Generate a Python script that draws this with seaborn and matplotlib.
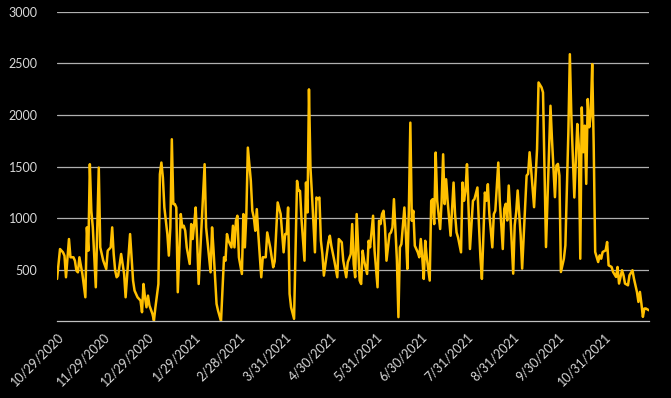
import datetime as dt
import matplotlib
matplotlib.use("Agg")
import matplotlib.pyplot as plt
import seaborn as sns
import pandas as pd

# ---- data: days since 10/29/2020 and values ----
start_date = "2020-10-29"
days = [0, 2, 4, 5, 6, 8, 9, 11, 12, 13, 14, 15, 17, 19, 20, 21, 22, 23, 24, 26, 28, 29, 30, 31, 33, 34, 36, 37, 38, 39, 40, 41, 43, 45, 46,
        48, 49, 50, 51, 52, 54, 56, 57, 58, 59, 60, 61, 62, 64, 65, 66, 68, 69, 70, 71, 72, 74, 75, 76, 77, 78, 79, 80, 81, 83, 84, 85, 86, 87, 89, 90, 91, 92, 93, 94, 95,
        99, 100, 103, 104, 105, 107, 108, 110, 112, 113, 114, 115, 117, 118, 119, 120, 121, 122, 124, 125, 126, 127, 128, 130, 131, 132, 133, 134, 135, 137, 138, 140, 141, 143, 145, 146,
        148, 150, 152, 153, 154, 155, 156, 157, 159, 161, 162, 163, 164, 166, 167, 168, 169, 170, 171, 173, 174, 175, 176, 177, 178, 179, 182, 183, 184, 186, 188, 189, 191, 192, 194, 195, 197,
        198, 199, 200, 201, 203, 204, 205, 206, 208, 209, 210, 212, 213, 215, 216, 217, 218, 219, 220, 221, 223, 224, 225, 226, 228, 229, 230, 231, 233, 234, 235, 236, 237, 238, 239, 240, 242, 243, 244, 245, 246,
        247, 248, 250, 251, 252, 253, 254, 255, 257, 258, 259, 260, 261, 262, 264, 266, 267, 268, 269, 271, 272, 273, 274, 275, 276, 277, 279, 280, 282, 283, 284, 285, 286, 287, 288, 289, 290, 292, 293, 294, 296, 297, 299,
        300, 301, 302, 303, 304, 306, 307, 308, 309, 311, 312, 315, 316, 317, 318, 320, 322, 323, 325, 326, 328, 331, 332, 334, 335, 336, 337, 338, 340, 341, 343, 344, 345, 347,
        349, 350, 351, 352, 353, 354, 355, 356, 357, 358, 359, 360, 361, 363, 364, 365, 366, 368, 369, 370, 372, 373, 375, 376, 377, 379, 380, 381, 383, 384, 386, 387, 388, 389, 390, 391, 392, 393, 394, 395, 397]

values = [410, 700, 668, 635, 426, 797, 620, 620, 587, 490, 474, 620, 458, 232, 910, 684, 1523, 1071, 910, 329, 1490, 716, 652, 587, 506, 684, 716, 910, 652, 490, 426, 442, 652, 458, 232,
          636, 845, 620, 394, 297, 232, 200, 87, 361, 232, 135, 248, 152, 71, 6, 135, 361, 1426, 1539, 1394, 1103, 845, 636, 910, 1765, 1136, 1136, 1103, 281, 1039, 910, 926, 877, 716, 555, 942, 797, 942, 1103, 780, 361,
          1523, 910, 474, 910, 684, 168, 103, 0, 620, 587, 845, 780, 716, 926, 716, 974, 1023, 620, 458, 1039, 716, 1039, 1684, 1361, 1071, 1007, 877, 1087, 845, 426, 620, 620, 861, 716, 523, 580,
          1152, 1040, 668, 845, 845, 1103, 265, 135, 23, 1361, 1265, 1265, 990, 587, 1345, 1055, 2249, 1490, 1232, 668, 1200, 1184, 1200, 781, 652, 442, 765, 829, 732, 587, 426, 797, 765, 587, 426, 571, 650,
          942, 555, 426, 1039, 394, 361, 684, 587, 458, 780, 716, 1023, 684, 329, 974, 942, 1039, 1071, 910, 587, 845, 861, 910, 1184, 587, 39, 716, 748, 1103, 845, 506, 1071, 1926, 974, 1071, 732, 668, 620, 797, 620, 410,
          780, 620, 394, 1168, 1184, 942, 1636, 1168, 894, 1168, 1619, 1136, 1377, 1168, 829, 1345, 1039, 861, 813, 668, 1345, 1168, 1265, 1523, 1103, 700, 1168, 1184, 1297, 942, 620, 410, 845, 1248, 1168, 1329, 1039, 716, 1039, 1071, 1539, 1168, 700,
          1090, 1139, 977, 1316, 1058, 461, 929, 1058, 1268, 832, 510, 1413, 1429, 1639, 1477, 1106, 1671, 2316, 2268, 2219, 719, 2090, 1768, 1203, 1510, 1526, 1413, 477, 606, 735, 1832, 2590, 1994, 1200,
          1913, 1703, 606, 2074, 1639, 1897, 1332, 2155, 1881, 1994, 2494, 1703, 671, 574, 639, 606, 671, 687, 768, 542, 526, 477, 429, 526, 365, 494, 445, 365, 348, 445, 494, 413, 348, 284, 187, 284, 171, 42, 123, 123, 106]

tick_dates = ["2020-10-29", "2020-11-29", "2020-12-29", "2021-01-29", "2021-02-28", "2021-03-31",
              "2021-04-30", "2021-05-31", "2021-06-30", "2021-07-31", "2021-08-31", "2021-09-30", "2021-10-31"]
end_date = "2021-11-30"
y_ticks = [500, 1000, 1500, 2000, 2500, 3000]

# ---- build frame ----
t0 = pd.Timestamp(start_date)
df = pd.DataFrame({"date": [t0 + pd.Timedelta(days=d) for d in days], "value": values})

sns.set_style("dark")
plt.rcParams["font.family"] = ["Lato", "DejaVu Sans"]

fig = plt.figure(figsize=(6.71, 3.98), dpi=100, facecolor="black")
ax = fig.add_axes([0.085, 0.193, 0.882, 0.777])
ax.set_facecolor("black")

sns.lineplot(data=df, x="date", y="value", ax=ax, color="#FFC000", linewidth=1.8)

ax.set_ylim(0, 3000)
ax.set_xlim(t0, pd.Timestamp(end_date))
ax.set_yticks(y_ticks)
ax.set_yticklabels([str(v) for v in y_ticks], color="#d9d9d9", fontsize=9)
ax.tick_params(axis="y", length=0, pad=14)
ax.yaxis.grid(True, color="#b0b0b0", linewidth=0.9)
ax.xaxis.grid(False)
ax.set_axisbelow(True)

tdates = [pd.Timestamp(d) for d in tick_dates]
ax.set_xticks(tdates)
ax.set_xticklabels([f"{d.month}/{d.day}/{d.year}" for d in tdates], rotation=45, ha="right",
                   rotation_mode="anchor", color="#d9d9d9", fontsize=9)
ax.set_xticks([pd.Timestamp(end_date)], minor=True)
ax.tick_params(axis="x", which="both", length=4, color="#bfbfbf", width=0.9, pad=3)

for s in ["top", "right", "left"]:
    ax.spines[s].set_visible(False)
ax.spines["bottom"].set_color("#bfbfbf")
ax.spines["bottom"].set_linewidth(0.9)

ax.set_xlabel("")
ax.set_ylabel("")

fig.savefig("out.png", dpi=100, facecolor="black")
